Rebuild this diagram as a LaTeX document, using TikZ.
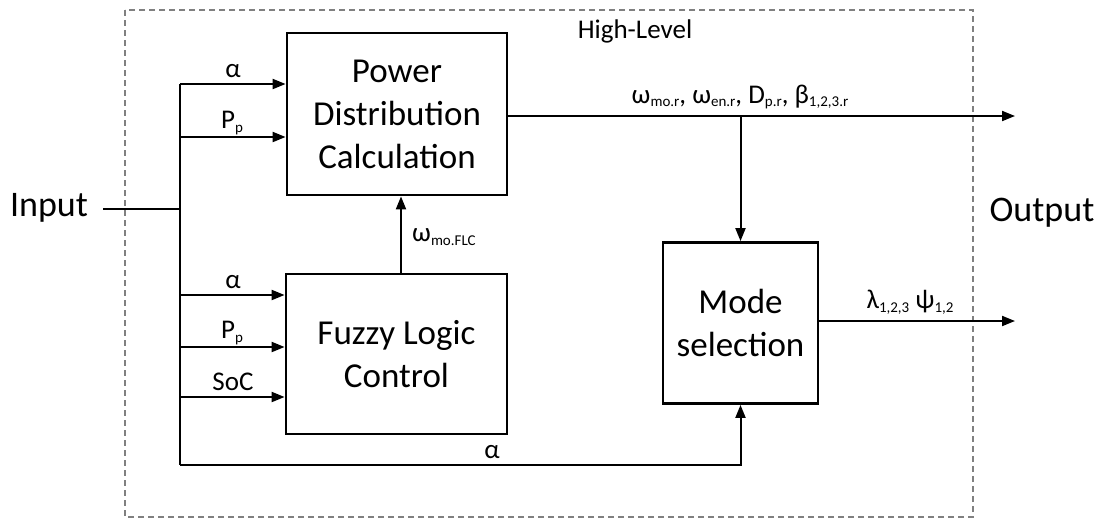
\documentclass[tikz,border=0pt]{standalone}
\usepackage{fontspec}
\setmainfont{Carlito}
\usetikzlibrary{arrows.meta}
% small lowered index used in the signal names
\newcommand\lowsub[1]{\raisebox{-0.14em}{\fontsize{15}{15}\selectfont #1}}
\begin{document}
\begin{tikzpicture}[x=1pt,y=-1pt,
  blk/.style={draw, line width=2.8pt, align=center, inner sep=0pt,
    font=\fontsize{35}{43}\selectfont, text=black},
  wire/.style={line width=2pt},
  conn/.style={line width=2pt, -{Triangle[length=13pt,width=10pt]}},
  lbl/.style={inner sep=0pt, font=\fontsize{27}{27}\selectfont, text=black},
  big/.style={inner sep=0pt, font=\fontsize{36}{36}\selectfont, text=black},
  frame/.style={draw=black!50, line width=1.2pt, dash pattern=on 6pt off 4pt}]
\useasboundingbox (0,0) rectangle (1100,520);

% dashed high-level boundary
\draw[frame] (125,10) rectangle (973,517);
\node[lbl] (hl) at (635,31) {High-Level};

% blocks
\node[blk, minimum width=220pt, minimum height=162pt] (pdc) at (397,114)
  {Power\\Distribution\\Calculation};
\node[blk, minimum width=221pt, minimum height=160pt] (flc) at (396.5,354)
  {Fuzzy Logic\\Control};
\node[blk, minimum width=155pt, minimum height=161pt] (mode) at (740.5,323)
  {Mode\\selection};

% input side
\node[big] (inp) at (49,208) {Input};
\node[big] (outp) at (1042,213) {Output};
\coordinate (inend) at (103,209);
\coordinate (bj) at (180,209);
\coordinate (bt) at (180,84);
\coordinate (bb) at (180,465);
\coordinate (b2) at (180,137);
\coordinate (b3) at (180,295);
\coordinate (b4) at (180,347);
\coordinate (b5) at (180,397);
\draw[wire] (inend) -- (bj);
\draw[wire] (bt) -- (bb);

% inputs of the power distribution block
\draw[conn] (bt) -- (bt -| pdc.west);
\draw[conn] (b2) -- (b2 -| pdc.west);
\node[lbl] (la1) at (233,71) {α};
\node[lbl] (lp1) at (232,123) {P\lowsub{p}};

% inputs of the fuzzy logic block
\draw[conn] (b3) -- (b3 -| flc.west);
\draw[conn] (b4) -- (b4 -| flc.west);
\draw[conn] (b5) -- (b5 -| flc.west);
\node[lbl] (la2) at (233,282) {α};
\node[lbl] (lp2) at (232,333) {P\lowsub{p}};
\node[lbl] (ls) at (233,382) {SoC};

% fuzzy logic to power distribution
\coordinate (fu) at (401,0);
\draw[conn] (flc.north -| fu) -- (pdc.south -| fu);
\node[lbl, anchor=west] (lw) at (412,237) {ω\lowsub{mo.FLC}};

% alpha to mode selection
\draw[conn] (bb) -- (bb -| mode.south) -- (mode.south);
\node[lbl] (la3) at (492,452) {α};

% reference outputs
\coordinate (oa) at (1015,116);
\coordinate (ob) at (1015,321);
\draw[conn] (pdc.east |- oa) -- (oa);
\draw[conn] (mode.north |- oa) -- (mode.north);
\node[lbl] (lref) at (740,97)
  {ω\lowsub{mo.r}, ω\lowsub{en.r}, D\lowsub{p.r}, β\lowsub{1,2,3.r}};

% mode outputs
\draw[conn] (mode.east |- ob) -- (ob);
\node[lbl] (lmode) at (910,302) {λ\lowsub{1,2,3} ψ\lowsub{1,2}};
\end{tikzpicture}
\end{document}
